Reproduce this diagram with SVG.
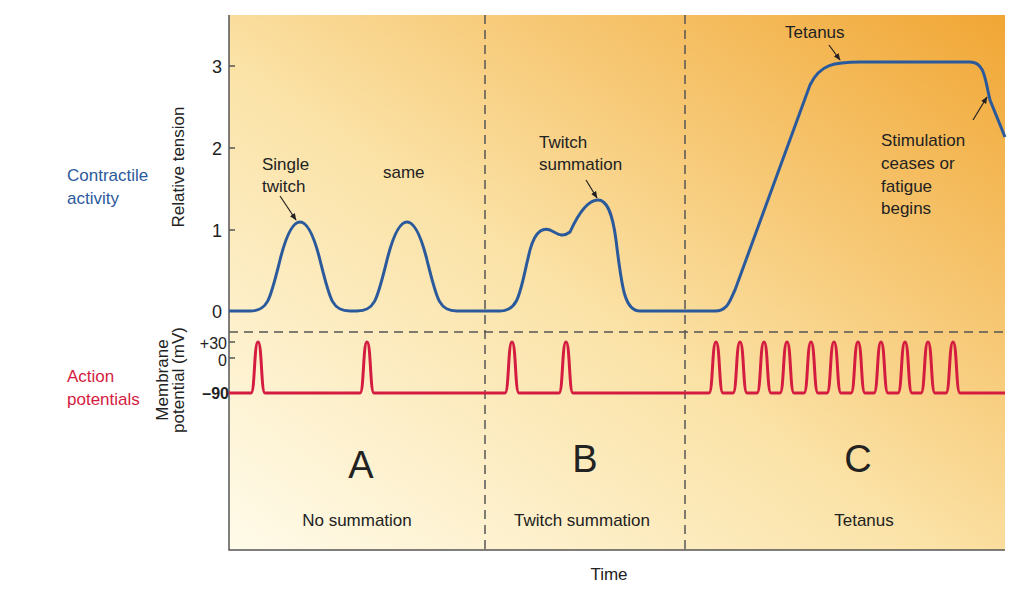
<svg xmlns="http://www.w3.org/2000/svg" width="1019" height="592" viewBox="0 0 1019 592">
<defs>
<linearGradient id="bg" x1="0" y1="1" x2="1" y2="0">
<stop offset="0" stop-color="#fffbea"/>
<stop offset="0.45" stop-color="#fbe3a8"/>
<stop offset="1" stop-color="#f1a634"/>
</linearGradient>
<marker id="ah" viewBox="0 0 10 10" refX="9" refY="5" markerWidth="6" markerHeight="6" orient="auto"><path d="M0,1 L10,5 L0,9 z" fill="#222"/></marker>
</defs>
<style>
text{font-family:"Liberation Sans",Arial,sans-serif;font-size:17px;fill:#222}
.tk{font-size:18px;text-anchor:end}
.sm{font-size:16px;text-anchor:end}
.dash{stroke:#555;stroke-width:1.5;stroke-dasharray:9,6;fill:none}
.blue{stroke:#2b5a9c;stroke-width:3;fill:none}
.red{stroke:#d41c40;stroke-width:3;fill:none}
.lead{stroke:#222;stroke-width:1.2;fill:none;marker-end:url(#ah)}
.big{font-size:38px;text-anchor:middle}
.mid{text-anchor:middle}
</style>
<rect x="229" y="15" width="776" height="535" fill="url(#bg)"/>
<g id="axes" stroke="#555" stroke-width="1.5" fill="none">
<path d="M229,15 V550 H1005"/>
<path d="M229,66 h6 M229,148 h6 M229,230 h6 M229,311 h6 M229,342 h6 M229,358 h6 M229,393 h6"/>
</g>
<g id="ticks">
<text class="tk" x="222" y="73">3</text>
<text class="tk" x="222" y="155">2</text>
<text class="tk" x="222" y="237">1</text>
<text class="tk" x="222" y="318">0</text>
<text class="sm" x="227" y="349">+30</text>
<text class="sm" x="227" y="366">0</text>
<text class="sm" x="229" y="399" style="font-weight:bold">–90</text>
</g>
<g id="dividers">
<path class="dash" d="M229,332 H1005"/>
<path class="dash" d="M485,15 V550"/>
<path class="dash" d="M685,15 V550"/>
</g>
<g id="connectors">
<path class="blue" d="M229,311 H250 C268,311 270,300 280,260 C288,228 295,222 300,222 C305,222 312,228 320,260 C330,300 332,311 350,311 H357 C375,311 377,300 387,260 C395,228 402,222 407,222 C412,222 419,228 427,260 C437,300 439,311 457,311 H500 C520,311 520,290 530,250 C536,228 545,228 550,230 C558,234 562,238 570,232 C580,210 590,200 598,200 C606,200 612,210 616,240 C622,290 625,311 640,311 H715 C728,311 730,300 735,290 L810,85 C820,64 835,62 860,62 H970 C985,62 985,80 990,100 L1005,137"/>
<path class="red" d="M229,393 H251 C255,393 254,342 258,342 C262,342 261,393 265,393 H360 C364,393 363,342 367,342 C371,342 370,393 374,393 H505 C509,393 508,342 512,342 C516,342 515,393 519,393 H559 C563,393 562,342 566,342 C570,342 569,393 573,393 H709
C713,393 712,342 716,342 C720,342 719,393 723,393 H733 C737,393 736,342 740,342 C744,342 743,393 747,393 H757 C761,393 760,342 764,342 C768,342 767,393 771,393 H780 C784,393 783,342 787,342 C791,342 790,393 794,393 H804 C808,393 807,342 811,342 C815,342 814,393 818,393 H827 C831,393 830,342 834,342 C838,342 837,393 841,393 H851 C855,393 854,342 858,342 C862,342 861,393 865,393 H874 C878,393 877,342 881,342 C885,342 884,393 888,393 H898 C902,393 901,342 905,342 C909,342 908,393 912,393 H921 C925,393 924,342 928,342 C932,342 931,393 935,393 H946 C950,393 949,342 953,342 C957,342 956,393 960,393 H1005"/>
<path class="lead" d="M280,196 L296,220"/>
<path class="lead" d="M586,180 L597,198"/>
<path class="lead" d="M829,45 L840,60"/>
<path class="lead" d="M973,120 L987,97"/>
</g>
<g id="labels">
<text x="67" y="181" style="fill:#2b5a9c">Contractile</text>
<text x="67" y="204" style="fill:#2b5a9c">activity</text>
<text x="67" y="382" style="fill:#d41c40">Action</text>
<text x="67" y="405" style="fill:#d41c40">potentials</text>
<text class="mid" transform="translate(184,167) rotate(-90)">Relative tension</text>
<text class="mid" transform="translate(168,380) rotate(-90)">Membrane</text>
<text class="mid" transform="translate(184,380) rotate(-90)">potential (mV)</text>
<text x="262" y="170">Single</text>
<text x="262" y="192">twitch</text>
<text x="383" y="178">same</text>
<text x="539" y="148">Twitch</text>
<text x="539" y="170">summation</text>
<text x="785" y="38">Tetanus</text>
<text x="881" y="146">Stimulation</text>
<text x="881" y="169">ceases or</text>
<text x="881" y="192">fatigue</text>
<text x="881" y="214">begins</text>
<text class="big" x="361" y="478">A</text>
<text class="big" x="585" y="472">B</text>
<text class="big" x="858" y="472">C</text>
<text class="mid" x="357" y="526">No summation</text>
<text class="mid" x="582" y="526">Twitch summation</text>
<text class="mid" x="864" y="526">Tetanus</text>
<text class="mid" x="609" y="580">Time</text>
</g>
</svg>
